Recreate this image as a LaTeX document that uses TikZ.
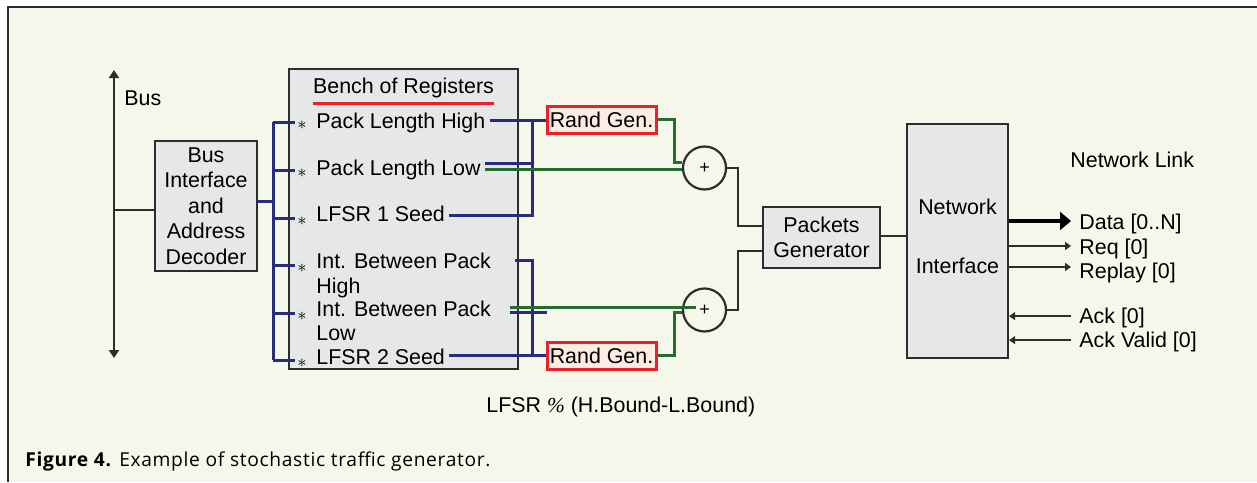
\documentclass[tikz,border=0pt]{standalone}
\usepackage{fontspec}
\setmainfont{Liberation Sans}
\newfontfamily\capfont{Open Sans}[LetterSpace=3.5]
\newfontfamily\pctfont{Liberation Serif}
\usetikzlibrary{arrows.meta}
\definecolor{bgpaper}{RGB}{244,247,234}
\definecolor{boxgray}{RGB}{230,231,233}
\definecolor{boxline}{RGB}{45,45,45}
\definecolor{regblue}{RGB}{40,44,128}
\definecolor{sumgreen}{RGB}{38,108,48}
\definecolor{randred}{RGB}{236,32,40}
\definecolor{randfill}{RGB}{253,236,226}
\begin{document}
\begin{tikzpicture}[
  x=0.5pt, y=-0.5pt,
  font=\fontsize{10.7}{12.5}\selectfont,
  blk/.style={draw=boxline, line width=1.1pt, fill=boxgray, align=center, inner sep=0pt},
  reg/.style={anchor=base west, inner sep=2pt},
  reg2/.style={anchor=north west, align=left, inner sep=2pt, font=\fontsize{10.7}{12.2}\selectfont},
  regstar/.style={anchor=west, inner sep=0pt, font=\fontsize{9}{9}\selectfont},
  randgen/.style={draw=randred, line width=1.5pt, fill=randfill, minimum width=54.5pt, minimum height=13.5pt, inner sep=0.5pt},
  adder/.style={circle, draw=boxline, line width=1.1pt, minimum size=21.5pt, inner sep=0pt, font=\fontsize{9}{9}\selectfont},
  bluew/.style={draw=regblue, line width=1.5pt},
  greenw/.style={draw=sumgreen, line width=1.5pt},
  wire/.style={draw=boxline, line width=1.1pt},
  sig/.style={anchor=base west, inner sep=0pt},
  outarrow/.style={draw=boxline, line width=0.8pt, -{Triangle[length=3pt,width=4pt]}},
  fatarrow/.style={draw=black, line width=1.6pt, -{Triangle[length=5.5pt,width=9pt]}}
]
\useasboundingbox (0,0) rectangle (1257,482);
\fill[bgpaper] (8,6.5) rectangle (1257,482);
\draw[boxline, line width=1pt] (8,482) -- (8,6.5) -- (1257,6.5);

% bus side
\coordinate (bustop) at (114,70);
\coordinate (busbot) at (114,358);
\draw[wire, {Triangle[length=4pt,width=5pt]}-{Triangle[length=4pt,width=5pt]}] (busbot) -- (bustop);
\node[anchor=base west, inner sep=0pt] (buslbl) at (124,105) {Bus};
\node[blk, minimum width=51pt, minimum height=65pt, font=\fontsize{10.7}{12.8}\selectfont] (bi) at (206,206) {Bus\\Interface\\and\\Address\\Decoder};
\draw[wire] ([yshift=-2pt]bi.west -| bustop) -- ([yshift=-2pt]bi.west);

% bench of registers
\node[blk, minimum width=114.5pt, minimum height=150pt] (bench) at (403.5,219) {};
\node[inner sep=0pt] (benchttl) at (403.5,88) {Bench of Registers};
\draw[randred, line width=1.5pt] ([yshift=-2.5pt]benchttl.south west) -- ([yshift=-2.5pt]benchttl.south east);
\node[reg] (plh) at (312,128.5) {Pack Length High};
\node[reg] (pll) at (312,175) {Pack Length Low};
\node[reg] (ls1) at (312,221.7) {LFSR 1 Seed};
\node[reg2] (ibph) at (312,248.7) {Int. Between Pack\\High};
\node[reg2] (ibpl) at (312,296.1) {Int. Between Pack\\Low};
\node[reg] (ls2) at (312,364) {LFSR 2 Seed};

% register select lines
\coordinate (regbus) at (273,0);
\foreach \y/\n in {122/1,170/2,218/3,265/4,313/5,360/6}
  \node[regstar] (st\n) at (297,\y+3) {$\ast$};
\foreach \n in {1,...,6}
  \draw[bluew] ([yshift=1.5pt]st\n.west -| regbus) -- ([shift={(-1pt,1.5pt)}]st\n.west);
\draw[bluew] ([yshift=1.5pt]st1.west -| regbus) -- ([yshift=1.5pt]st6.west -| regbus);
\draw[bluew] ([yshift=2.5pt]bi.east) -- ([yshift=2.5pt]bi.east -| regbus);

% random generators and adders
\node[randgen] (rg1) at (601.5,119.5) {Rand Gen.};
\node[randgen] (rg2) at (601.5,355.5) {Rand Gen.};
\node[adder] (add1) at (704.5,168) {+};
\node[adder] (add2) at (704.5,310) {+};
\coordinate (tapA) at (532,0);

\draw[bluew] ([yshift=4.25pt]plh.base east) -- ([yshift=4.25pt]plh.base east -| rg1.west);
\draw[bluew] ([yshift=3.35pt]ls1.base east) -| ([yshift=4.25pt]tapA |- plh.base east);
\draw[bluew] ([yshift=5.85pt]pll.base east) -- ([yshift=5.85pt]pll.base east -| tapA);
\draw[greenw] ([yshift=2.6pt]pll.base east) -- ([yshift=2.6pt]pll.base east -| add1.west);
\draw[greenw] (rg1.east) -- ++(17,0) |- (add1.167);

\draw[bluew] ([shift={(9.75pt,-5.65pt)}]ibph.north east) -| ([yshift=4.35pt]tapA |- ls2.base east);
\draw[bluew] ([shift={(7.25pt,-7.95pt)}]ibpl.north east) -- ([shift={(7.25pt,-7.95pt)}]ibpl.north east -| tapA);
\draw[greenw] ([shift={(7.25pt,-5.45pt)}]ibpl.north east) -- ([shift={(7.25pt,-5.45pt)}]ibpl.north east -| add2.west);
\draw[bluew] ([yshift=4.35pt]ls2.base east) -- ([yshift=4.35pt]ls2.base east -| rg2.west);
\draw[greenw] (rg2.east) -- ++(17,0) |- (add2.186);

% packets generator and network interface
\node[blk, minimum width=58.5pt, minimum height=30.5pt] (pg) at (821.5,237.5) {Packets\\Generator};
\node[blk, minimum width=50.5pt, minimum height=117pt] (ni) at (957.5,241) {};
\node[inner sep=0pt, align=center] (nitext) at (957.5,236.5) {Network\\[17pt]Interface};
\draw[wire] (add1.east) -- ++(11,0) |- ([yshift=5.75pt]pg.west);
\draw[wire] (add2.east) -- ++(11,0) |- ([yshift=-6.75pt]pg.west);
\draw[wire] ([yshift=0.75pt]pg.east) -- ([yshift=0.75pt]pg.east -| ni.west);

% network link
\node[anchor=base west, inner sep=0pt] (netlink) at (1070,167.3) {Network Link};
\node[sig] (data) at (1079,229) {Data [0..N]};
\node[sig] (req) at (1079,254) {Req [0]};
\node[sig] (replay) at (1079,278) {Replay [0]};
\node[sig] (ack) at (1079,323.3) {Ack [0]};
\node[sig] (ackv) at (1079,347.3) {Ack Valid [0]};
\draw[fatarrow] ([yshift=4pt]ni.east |- data.base) -- ([shift={(-4pt,4pt)}]data.base west);
\draw[outarrow] ([yshift=4pt]ni.east |- req.base) -- ([shift={(-4pt,4pt)}]req.base west);
\draw[outarrow] ([yshift=5.5pt]ni.east |- replay.base) -- ([shift={(-4pt,5.5pt)}]replay.base west);
\draw[outarrow] ([shift={(-4pt,3.6pt)}]ack.base west) -- ([yshift=3.6pt]ni.east |- ack.base);
\draw[outarrow] ([shift={(-4pt,3.6pt)}]ackv.base west) -- ([yshift=3.6pt]ni.east |- ackv.base);

\node[anchor=base west, inner sep=0pt] (modnote) at (486,412.3) {LFSR {\pctfont\itshape\%} (H.Bound-L.Bound)};
\node[anchor=base west, inner sep=0pt, font=\capfont\fontsize{9.6}{11}\selectfont] (caption) at (25,466.7) {\textbf{Figure 4.} Example of stochastic traffic generator.};
\end{tikzpicture}
\end{document}
